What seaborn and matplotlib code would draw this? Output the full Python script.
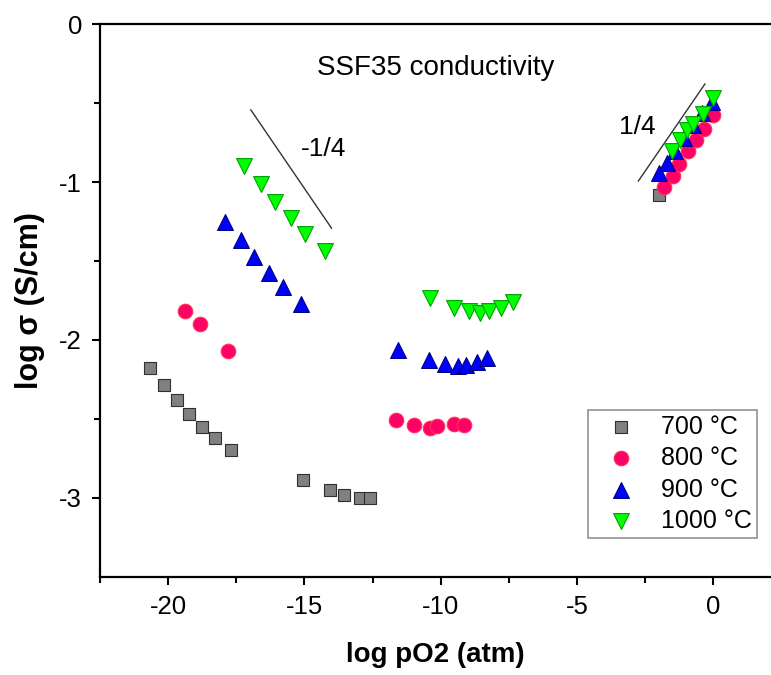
import numpy as np
import pandas as pd
import matplotlib
matplotlib.use("Agg")
import matplotlib.pyplot as plt
import seaborn as sns

# ---- data (log pO2 [atm], log sigma [S/cm]) ----
x700 = [-20.66, -20.15, -19.66, -19.22, -18.75, -18.28, -17.69,
        -15.05, -14.07, -13.54, -12.97, -12.60, -1.98]
y700 = [-2.18, -2.285, -2.38, -2.47, -2.55, -2.62, -2.70,
        -2.89, -2.95, -2.98, -3.00, -3.00, -1.08]

x800 = [-19.38, -18.84, -17.79,
        -11.65, -10.99, -10.40, -10.13, -9.51, -9.13,
        -1.82, -1.48, -1.25, -0.93, -0.63, -0.33, 0.0]
y800 = [-1.815, -1.90, -2.07,
        -2.51, -2.54, -2.556, -2.546, -2.53, -2.54,
        -1.03, -0.963, -0.884, -0.805, -0.733, -0.663, -0.573]

x900 = [-17.92, -17.34, -16.85, -16.30, -15.79, -15.11,
        -11.56, -10.44, -9.83, -9.36, -9.06, -8.67, -8.30,
        -1.98, -1.71, -1.40, -1.08, -0.75, -0.42, -0.05]
y900 = [-1.253, -1.367, -1.472, -1.573, -1.666, -1.771,
        -2.064, -2.127, -2.152, -2.163, -2.158, -2.141, -2.116,
        -0.945, -0.878, -0.80, -0.72, -0.64, -0.56, -0.49]

x1000 = [-17.22, -16.60, -16.07, -15.51, -14.96, -14.25,
         -10.40, -9.52, -8.97, -8.55, -8.21, -7.78, -7.33,
         -1.50, -1.22, -0.95, -0.73, -0.37, 0.0]
y1000 = [-0.90, -1.015, -1.124, -1.23, -1.329, -1.437,
         -1.737, -1.80, -1.819, -1.83, -1.819, -1.798, -1.762,
         -0.80, -0.731, -0.67, -0.63, -0.57, -0.468]

labels = ["700 °C", "800 °C", "900 °C", "1000 °C"]
colors = ["#808080", "#FF0066", "#0000FF", "#00FF00"]
edges = ["#303030", "#FF3355", "#000080", "#00A000"]
markers = ["s", "o", "^", "v"]
sizes = [80, 110, 130, 130]

# slope guide lines
guide_neg_x = [-16.97, -14.0]
guide_neg_y = [-0.541, -1.293]
guide_pos_x = [-2.75, -0.30]
guide_pos_y = [-0.994, -0.377]

xticks = [-20, -15, -10, -5, 0]
yticks = [0, -1, -2, -3]

frames = []
for lab, xs, ys in zip(labels, [x700, x800, x900, x1000], [y700, y800, y900, y1000]):
    frames.append(pd.DataFrame({"x": xs, "y": ys, "T": lab}))
df = pd.concat(frames, ignore_index=True)

sns.set_style("ticks")
plt.rcParams["font.family"] = ["Liberation Sans", "DejaVu Sans"]
plt.rcParams["axes.unicode_minus"] = False
for k in ["text.color", "axes.labelcolor", "xtick.color", "ytick.color"]:
    plt.rcParams[k] = "black"

fig = plt.figure(figsize=(7.71, 6.75), dpi=100)
ax = fig.add_axes([100 / 771, (675 - 576.7) / 675, 671 / 771, 552.4 / 675])

for lab, col, ec, mk, s in zip(labels, colors, edges, markers, sizes):
    sub = df[df["T"] == lab]
    sns.scatterplot(data=sub, x="x", y="y", ax=ax, color=col, edgecolor=ec,
                    marker=mk, s=s, linewidth=0.8, label=lab, zorder=3)

ax.plot(guide_neg_x, guide_neg_y, color="#333333", lw=1.0)
ax.plot(guide_pos_x, guide_pos_y, color="#333333", lw=1.0)

ax.text(-10.2, -0.276, "SSF35 conductivity", fontsize=20, ha="center", va="center")
ax.text(-14.3, -0.79, "-1/4", fontsize=19, ha="center", va="center")
ax.text(-2.8, -0.65, "1/4", fontsize=19, ha="center", va="center")

ax.set_xlim(-22.45, 2.12)
ax.set_ylim(-3.5, 0)
ax.set_xticks(xticks)
ax.set_yticks(yticks)
ax.set_xticks(np.arange(-22.5, 2.2, 2.5), minor=True)
ax.set_yticks([-0.5, -1.5, -2.5], minor=True)
ax.tick_params(which="major", direction="out", length=6, width=1.5, labelsize=18.5, pad=7)
ax.tick_params(which="minor", direction="out", length=4, width=1.5)

for side in ["left", "bottom", "top"]:
    ax.spines[side].set_linewidth(1.6)
    ax.spines[side].set_color("black")
ax.spines["right"].set_visible(False)

ax.set_xlabel("log pO2 (atm)", fontsize=20, fontweight="bold", labelpad=17)
ax.set_ylabel("log σ (S/cm)", fontsize=22, fontweight="bold", labelpad=10)

leg = ax.legend(loc="lower left", bbox_to_anchor=(0.728, 0.07), borderaxespad=0,
                fontsize=18, frameon=True, fancybox=False, handletextpad=0.5,
                labelspacing=0.3, borderpad=0.2, handlelength=2.2)
leg.get_frame().set_edgecolor("#777777")
leg.get_frame().set_linewidth(1.2)

fig.savefig("out.png", dpi=100)
